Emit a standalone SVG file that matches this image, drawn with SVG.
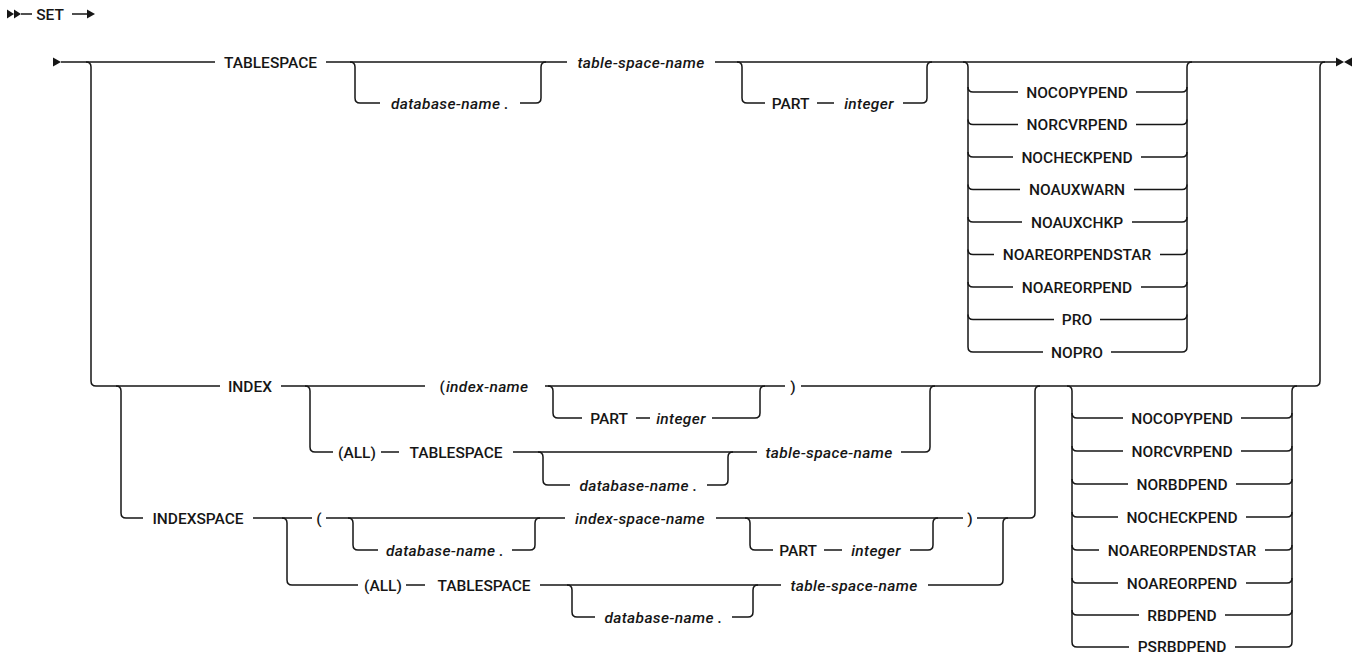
<svg xmlns="http://www.w3.org/2000/svg" width="1357" height="654" viewBox="0 0 1357 654">
<style>
.k{font-family:Roboto,"Liberation Sans",sans-serif;font-size:15.5px;font-weight:500;fill:#161616;text-anchor:middle}
.v{font-family:Roboto,"Liberation Sans",sans-serif;font-size:15.5px;font-weight:500;font-style:italic;letter-spacing:0.35px;fill:#161616;text-anchor:middle}
.c path{fill:none;stroke:#161616;stroke-width:1.5}
.m{fill:#161616;stroke:none}
</style>
<rect width="1357" height="654" fill="#ffffff"/>
<g id="connectors" class="c">
<!-- header -->
<polygon class="m" points="7,9.5 14,14 7,18.5"/>
<polygon class="m" points="14,9.5 21,14 14,18.5"/>
<path d="M21 14 H32"/>
<path d="M72 14 H88"/>
<polygon class="m" points="87,9.5 95,14 87,18.5"/>
<!-- start / end -->
<polygon class="m" points="53,57.5 61,62 53,66.5"/>
<polygon class="m" points="1336,57.5 1344,62 1336,66.5"/>
<polygon class="m" points="1352,57.5 1344,62 1352,66.5"/>
<!-- main line -->
<path d="M61 62 H215 M326 62 H567 M715 62 H1336"/>
<path d="M86 62 Q91 62 91 67 V381 Q91 386 96 386"/>
<path d="M350 62 Q355 62 355 67 V98 Q355 103 360 103 H380 M520 103 H536 Q541 103 541 98 V67 Q541 62 546 62"/>
<path d="M737 62 Q742 62 742 67 V98 Q742 103 747 103 H765 M817 103 H834 M903 103 H922 Q927 103 927 98 V67 Q927 62 932 62"/>
<!-- options group 1 -->
<path d="M963 62 Q968 62 968 67 V347 Q968 352 973 352"/>
<path d="M968 87 Q968 92 973 92 M968 119.5 Q968 124.5 973 124.5 M968 152 Q968 157 973 157 M968 184.5 Q968 189.5 973 189.5 M968 217 Q968 222 973 222 M968 249.5 Q968 254.5 973 254.5 M968 282 Q968 287 973 287 M968 314.5 Q968 319.5 973 319.5"/>
<path d="M1182 352 Q1187 352 1187 347 V67 Q1187 62 1192 62"/>
<path d="M1182 92 Q1187 92 1187 87 M1182 124.5 Q1187 124.5 1187 119.5 M1182 157 Q1187 157 1187 152 M1182 189.5 Q1187 189.5 1187 184.5 M1182 222 Q1187 222 1187 217 M1182 254.5 Q1187 254.5 1187 249.5 M1182 287 Q1187 287 1187 282 M1182 319.5 Q1187 319.5 1187 314.5"/>
<path d="M973 92 H1018 M1136 92 H1182"/>
<path d="M973 124.5 H1018 M1136 124.5 H1182"/>
<path d="M973 157 H1013 M1141 157 H1182"/>
<path d="M973 189.5 H1020 M1134 189.5 H1182"/>
<path d="M973 222 H1022 M1132 222 H1182"/>
<path d="M973 254.5 H994 M1160 254.5 H1182"/>
<path d="M973 287 H1013 M1141 287 H1182"/>
<path d="M973 319.5 H1054 M1100 319.5 H1182"/>
<path d="M973 352 H1043 M1111 352 H1182"/>
<path d="M1315 386 Q1320 386 1320 381 V67 Q1320 62 1325 62"/>
<!-- INDEX row -->
<path d="M96 386 H220 M281 386 H425 M545 386 H785 M801 386 H1315"/>
<path d="M116 386 Q121 386 121 391 V513 Q121 518 126 518"/>
<path d="M305 386 Q310 386 310 391 V447 Q310 452 315 452"/>
<path d="M548 386 Q553 386 553 391 V413 Q553 418 558 418 H582 M636 418 H650 M712 418 H755 Q760 418 760 413 V391 Q760 386 765 386"/>
<path d="M925 452 Q930 452 930 447 V391 Q930 386 935 386"/>
<path d="M315 452 H333 M381 452 H399 M513 452 H757 M901 452 H925"/>
<path d="M538 452 Q543 452 543 457 V480 Q543 485 548 485 H570 M707 485 H723 Q728 485 728 480 V457 Q728 452 733 452"/>
<path d="M1030 518 Q1035 518 1035 513 V391 Q1035 386 1040 386"/>
<!-- INDEXSPACE row -->
<path d="M126 518 H143 M253 518 H312 M326 518 H565 M716 518 H963 M977 518 H1030"/>
<path d="M282 518 Q287 518 287 523 V580 Q287 585 292 585"/>
<path d="M348 518 Q353 518 353 523 V545 Q353 550 358 550 H378 M512 550 H530 Q535 550 535 545 V523 Q535 518 540 518"/>
<path d="M745 518 Q750 518 750 523 V545 Q750 550 755 550 H773 M824 550 H842 M910 550 H928 Q933 550 933 545 V523 Q933 518 938 518"/>
<path d="M998 585 Q1003 585 1003 580 V523 Q1003 518 1008 518"/>
<path d="M292 585 H358 M406 585 H425 M540 585 H781 M928 585 H998"/>
<path d="M567 585 Q572 585 572 590 V612 Q572 617 577 617 H595 M732 617 H748 Q753 617 753 612 V590 Q753 585 758 585"/>
<!-- options group 2 -->
<path d="M1067 386 Q1072 386 1072 391 V642 Q1072 647 1077 647"/>
<path d="M1072 413 Q1072 418 1077 418 M1072 446 Q1072 451 1077 451 M1072 479 Q1072 484 1077 484 M1072 512 Q1072 517 1077 517 M1072 545 Q1072 550 1077 550 M1072 578 Q1072 583 1077 583 M1072 610 Q1072 615 1077 615"/>
<path d="M1287 647 Q1292 647 1292 642 V391 Q1292 386 1297 386"/>
<path d="M1287 418 Q1292 418 1292 413 M1287 451 Q1292 451 1292 446 M1287 484 Q1292 484 1292 479 M1287 517 Q1292 517 1292 512 M1287 550 Q1292 550 1292 545 M1287 583 Q1292 583 1292 578 M1287 615 Q1292 615 1292 610"/>
<path d="M1077 418 H1123 M1241 418 H1287"/>
<path d="M1077 451 H1123 M1241 451 H1287"/>
<path d="M1077 484 H1128 M1236 484 H1287"/>
<path d="M1077 517 H1118 M1246 517 H1287"/>
<path d="M1077 550 H1099 M1265 550 H1287"/>
<path d="M1077 583 H1118 M1246 583 H1287"/>
<path d="M1077 615 H1139 M1225 615 H1287"/>
<path d="M1077 647 H1129 M1235 647 H1287"/>
</g>
<g id="n-set"><text class="k" x="50" y="19.5">SET</text></g>
<g id="n-tablespace"><text class="k" x="270.5" y="67.5">TABLESPACE</text></g>
<g id="n-ts-dbname"><text class="v" x="450" y="108.5">database-name .</text></g>
<g id="n-ts-name"><text class="v" x="641" y="67.5">table-space-name</text></g>
<g id="n-ts-part"><text class="k" x="790.5" y="108.5">PART</text><text class="v" x="869" y="108.5">integer</text></g>
<g id="n-opt1">
<text class="k" x="1077" y="97.5">NOCOPYPEND</text>
<text class="k" x="1077" y="130">NORCVRPEND</text>
<text class="k" x="1077" y="162.5">NOCHECKPEND</text>
<text class="k" x="1077" y="195">NOAUXWARN</text>
<text class="k" x="1077" y="227.5">NOAUXCHKP</text>
<text class="k" x="1077" y="260">NOAREORPENDSTAR</text>
<text class="k" x="1077" y="292.5">NOAREORPEND</text>
<text class="k" x="1077" y="325">PRO</text>
<text class="k" x="1077" y="357.5">NOPRO</text>
</g>
<g id="n-index"><text class="k" x="250" y="391.5">INDEX</text></g>
<g id="n-ix-name"><text class="k" x="484" y="391.5">(<tspan font-style="italic" letter-spacing="0.35px" dx="1">index-name</tspan></text></g>
<g id="n-ix-part"><text class="k" x="609" y="423.5">PART</text><text class="v" x="681" y="423.5">integer</text></g>
<g id="n-ix-close"><text class="k" x="793" y="391.5">)</text></g>
<g id="n-ix-all"><text class="k" x="357" y="457.5">(ALL)</text><text class="k" x="456" y="457.5">TABLESPACE</text></g>
<g id="n-ix-dbname"><text class="v" x="638.5" y="490.5">database-name .</text></g>
<g id="n-ix-tsname"><text class="v" x="829" y="457.5">table-space-name</text></g>
<g id="n-indexspace"><text class="k" x="198" y="523.5">INDEXSPACE</text></g>
<g id="n-ixs-open"><text class="k" x="319" y="523.5">(</text></g>
<g id="n-ixs-dbname"><text class="v" x="445" y="555.5">database-name .</text></g>
<g id="n-ixs-name"><text class="v" x="640" y="523.5">index-space-name</text></g>
<g id="n-ixs-part"><text class="k" x="798" y="555.5">PART</text><text class="v" x="876" y="555.5">integer</text></g>
<g id="n-ixs-close"><text class="k" x="970" y="523.5">)</text></g>
<g id="n-ixs-all"><text class="k" x="383" y="590.5">(ALL)</text><text class="k" x="484" y="590.5">TABLESPACE</text></g>
<g id="n-ixs-dbname2"><text class="v" x="663.5" y="622.5">database-name .</text></g>
<g id="n-ixs-tsname"><text class="v" x="854" y="590.5">table-space-name</text></g>
<g id="n-opt2">
<text class="k" x="1182" y="423.5">NOCOPYPEND</text>
<text class="k" x="1182" y="456.5">NORCVRPEND</text>
<text class="k" x="1182" y="489.5">NORBDPEND</text>
<text class="k" x="1182" y="522.5">NOCHECKPEND</text>
<text class="k" x="1182" y="555.5">NOAREORPENDSTAR</text>
<text class="k" x="1182" y="588.5">NOAREORPEND</text>
<text class="k" x="1182" y="620.5">RBDPEND</text>
<text class="k" x="1182" y="652">PSRBDPEND</text>
</g>
</svg>
